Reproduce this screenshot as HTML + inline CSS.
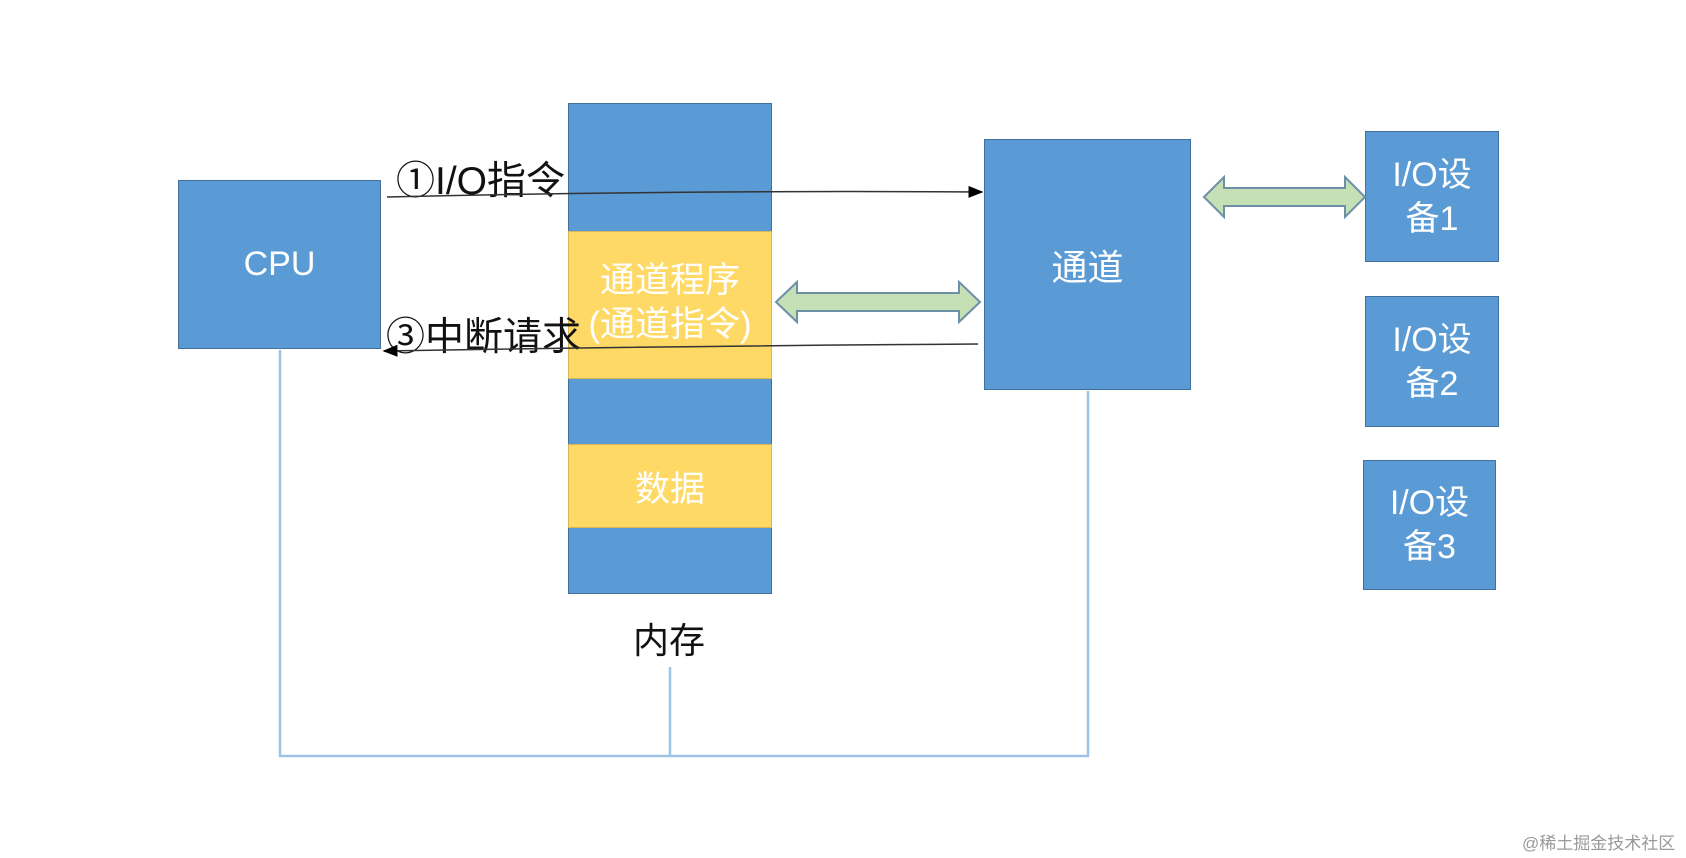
<!DOCTYPE html>
<html><head><meta charset="utf-8"><style>
html,body{margin:0;padding:0;background:#fff;width:1686px;height:858px;overflow:hidden;font-family:"Liberation Sans","Noto Sans CJK SC",sans-serif;}
.b{position:absolute;background:#5b9bd5;border:1.5px solid #41719c;box-sizing:border-box;color:#fff;display:flex;align-items:center;justify-content:center;text-align:center;}
.y{position:absolute;background:#ffd966;border:1.5px solid #d6b656;box-sizing:border-box;color:#fff;display:flex;align-items:center;justify-content:center;text-align:center;}
.t{position:absolute;white-space:nowrap;color:#111;}
</style></head><body>
<div class="b" style="left:178px;top:180px;width:203px;height:169px;font-size:34px;">CPU</div>
<div class="b" style="left:568px;top:103px;width:204px;height:491px;"></div>
<div class="y" style="left:568px;top:231px;width:204px;height:148px;font-size:35px;line-height:44px;"><div style="margin-top:-4px">通道程序<br>(通道指令)</div></div>
<div class="y" style="left:568px;top:444px;width:204px;height:84px;font-size:35px;">数据</div>
<div class="b" style="left:984px;top:139px;width:207px;height:251px;font-size:36px;">通道</div>
<div class="b" style="left:1365px;top:131px;width:134px;height:131px;font-size:34px;line-height:44px;">I/O设<br>备1</div>
<div class="b" style="left:1365px;top:296px;width:134px;height:131px;font-size:34px;line-height:44px;">I/O设<br>备2</div>
<div class="b" style="left:1363px;top:460px;width:133px;height:130px;font-size:34px;line-height:44px;">I/O设<br>备3</div>
<div class="t" style="left:633px;top:612px;font-size:36px;">内存</div>
<div class="t" style="left:396px;top:150px;font-size:39px;">①I/O指令</div>
<div class="t" style="left:386px;top:306px;font-size:39px;">③中断请求</div>
<div class="t" style="left:1522px;top:829px;font-size:17px;color:#999;">@稀土掘金技术社区</div>
<svg width="1686" height="858" style="position:absolute;left:0;top:0" xmlns="http://www.w3.org/2000/svg">
<defs><marker id="a" markerWidth="10" markerHeight="10" refX="9" refY="5" orient="auto"><path d="M0,1 L10,5 L0,9 z" fill="#000"/></marker></defs>
<path d="M387,197 Q680,190 982,192" stroke="#333" stroke-width="1.5" fill="none" marker-end="url(#a)"/>
<path d="M978,344 Q680,346 384,351" stroke="#333" stroke-width="1.5" fill="none" marker-end="url(#a)"/>
<polyline points="280,350 280,756 1088,756 1088,391" stroke="#9dc3e6" stroke-width="2.5" fill="none"/>
<line x1="670" y1="667" x2="670" y2="756" stroke="#9dc3e6" stroke-width="2.5"/>
<path d="M776,302 L797,282 L797,293 L959,293 L959,282 L980,302 L959,322 L959,311 L797,311 L797,322 Z" fill="#c5e0b4" stroke="#6d8fa8" stroke-width="2"/>
<path d="M1204,197 L1224,177 L1224,188 L1345,188 L1345,177 L1365,197 L1345,217 L1345,206 L1224,206 L1224,217 Z" fill="#c5e0b4" stroke="#6d8fa8" stroke-width="2"/>
</svg>
</body></html>
